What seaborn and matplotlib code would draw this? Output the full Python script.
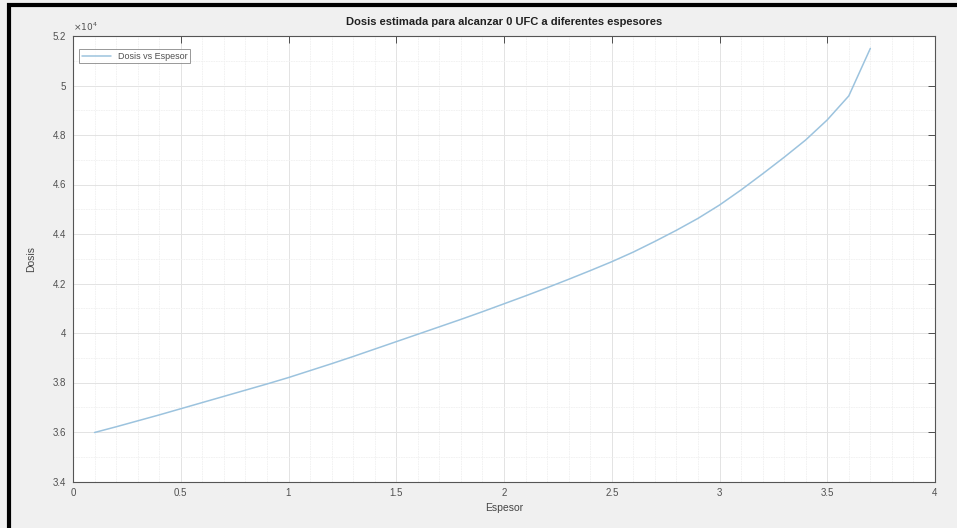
import pandas as pd
import matplotlib
matplotlib.use("Agg")
import matplotlib.pyplot as plt
import matplotlib.ticker as mticker
from matplotlib.patches import Rectangle
import seaborn as sns

# thickness values (x) and estimated dose (units of 1e4)
espesor = [0.1, 0.2, 0.3, 0.4, 0.5, 0.6, 0.7, 0.8, 0.9, 1.0,
           1.1, 1.2, 1.3, 1.4, 1.5, 1.6, 1.7, 1.8, 1.9, 2.0,
           2.1, 2.2, 2.3, 2.4, 2.5, 2.6, 2.7, 2.8, 2.9, 3.0,
           3.1, 3.2, 3.3, 3.4, 3.5, 3.6, 3.7]
dosis_1e4 = [3.598, 3.621, 3.645, 3.669, 3.694, 3.719, 3.744, 3.769, 3.794, 3.820,
             3.848, 3.876, 3.905, 3.935, 3.965, 3.995, 4.025, 4.055, 4.086, 4.118,
             4.150, 4.183, 4.217, 4.252, 4.288, 4.327, 4.370, 4.415, 4.463, 4.517,
             4.578, 4.643, 4.710, 4.780, 4.861, 4.958, 5.150]

df = pd.DataFrame({"Espesor": espesor, "Dosis": [d * 1e4 for d in dosis_1e4]})

sns.set_theme(style="white")
plt.rcParams["font.family"] = ["Liberation Sans", "DejaVu Sans"]

fig = plt.figure(figsize=(9.57, 5.28), dpi=100, facecolor="#f0f0f0")
ax = fig.add_axes([73 / 957, (528 - 481.5) / 528, 862 / 957, 445.5 / 528])
ax.set_facecolor("white")

sns.lineplot(data=df, x="Espesor", y="Dosis", ax=ax, color="#9cc3de",
             linewidth=1.1, label="Dosis vs Espesor")

ax.set_xlim(0, 4)
ax.set_ylim(3.4e4, 5.2e4)
ax.xaxis.set_major_locator(mticker.MultipleLocator(0.5))
ax.xaxis.set_minor_locator(mticker.MultipleLocator(0.1))
ax.yaxis.set_major_locator(mticker.MultipleLocator(0.2e4))
ax.yaxis.set_minor_locator(mticker.MultipleLocator(0.1e4))
ax.xaxis.set_major_formatter(mticker.FuncFormatter(lambda v, p: "%g" % v))
ax.yaxis.set_major_formatter(mticker.FuncFormatter(lambda v, p: "%g" % round(v / 1e4, 3)))

ax.grid(which="major", color="#e3e3e3", linewidth=0.7)
ax.grid(which="minor", color="#f0f0f0", linewidth=0.6, linestyle=(0, (2, 1)))
ax.set_axisbelow(True)

ax.tick_params(which="major", direction="in", length=5, width=0.7, color="#4d4d4d",
               labelsize=7, labelcolor="#505050", top=True, right=True, pad=5)
ax.tick_params(which="minor", length=0)
for s in ax.spines.values():
    s.set_color("#555555")
    s.set_linewidth(0.8)

ax.set_title("Dosis estimada para alcanzar 0 UFC a diferentes espesores",
             fontsize=8, fontweight="bold", color="#202020", pad=8)
ax.set_xlabel("Espesor", fontsize=7.5, color="#454545", labelpad=3)
ax.set_ylabel("Dosis", fontsize=7.5, color="#454545", labelpad=12)
ax.text(0.0, 1.006, r"$\times10^4$", transform=ax.transAxes, fontsize=6.5,
        color="#505050", ha="left", va="bottom")

leg = ax.legend(loc="upper left", bbox_to_anchor=(0.0, 0.985), fontsize=6.5,
                frameon=True, fancybox=False, borderaxespad=0.7,
                handlelength=3.2, borderpad=0.3)
leg.get_frame().set_edgecolor("#7f7f7f")
leg.get_frame().set_linewidth(0.7)
for t in leg.get_texts():
    t.set_color("#505050")

# screenshot frame on the left and top
fig.add_artist(Rectangle((8.5 / 957, -0.1), 1.5, 1.1 - 5 / 528, transform=fig.transFigure,
                         fill=False, edgecolor="black", linewidth=3))

fig.savefig("out.png", dpi=100, facecolor=fig.get_facecolor())
